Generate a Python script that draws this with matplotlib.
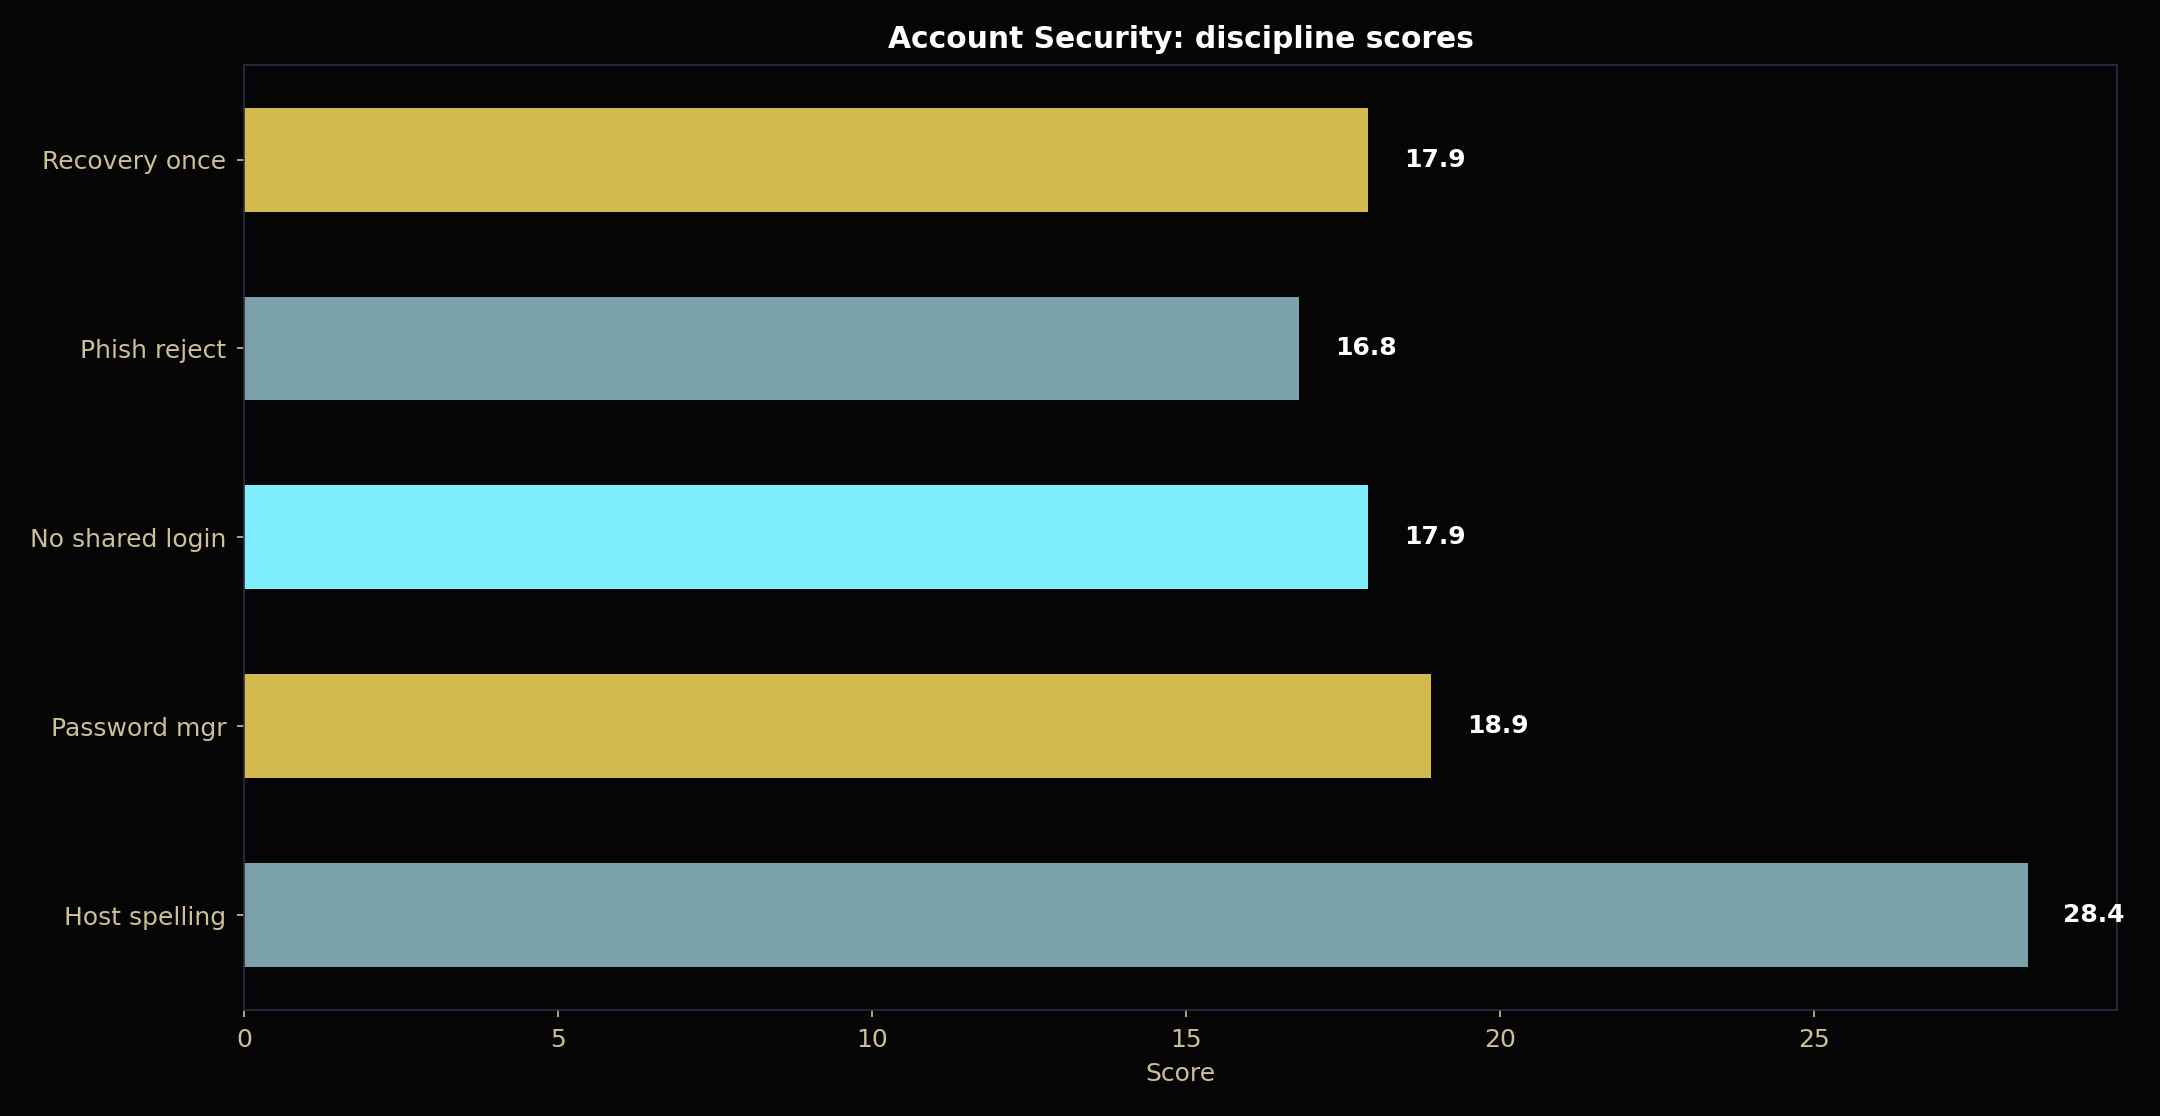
import matplotlib
matplotlib.use("Agg")
import matplotlib.pyplot as plt

categories = ["Host spelling", "Password mgr", "No shared login", "Phish reject", "Recovery once"]
values = [28.4, 18.9, 17.9, 16.8, 17.9]
bar_colors = ["#7BA1AB", "#D4B94E", "#7DEDFE", "#7BA1AB", "#D4B94E"]

BG = "#050505"
TICK = "#CDBF98"
SPINE = "#2E2C48"

fig = plt.figure(figsize=(14.4, 7.44), dpi=150, facecolor=BG)
ax = fig.add_axes([0.113, 0.095, 0.867, 0.847])
ax.set_facecolor(BG)

ax.barh(categories, values, height=0.55, color=bar_colors)
vmax = max(values)
ax.set_xlim(0, vmax * 1.05)
for i, v in enumerate(values):
    ax.text(v + vmax * 0.02, i, f"{v:.1f}", va="center", ha="left",
            color="white", fontsize=12, fontweight="bold")

for s in ax.spines.values():
    s.set_color(SPINE)
ax.tick_params(colors=TICK, labelsize=12, pad=5)
ax.set_xlabel("Score", color=TICK, fontsize=12, labelpad=5)
ax.set_title("Account Security: discipline scores", color="white",
             fontsize=14.3, fontweight="bold", pad=8)

fig.savefig("out.png", dpi=150, facecolor=BG)
